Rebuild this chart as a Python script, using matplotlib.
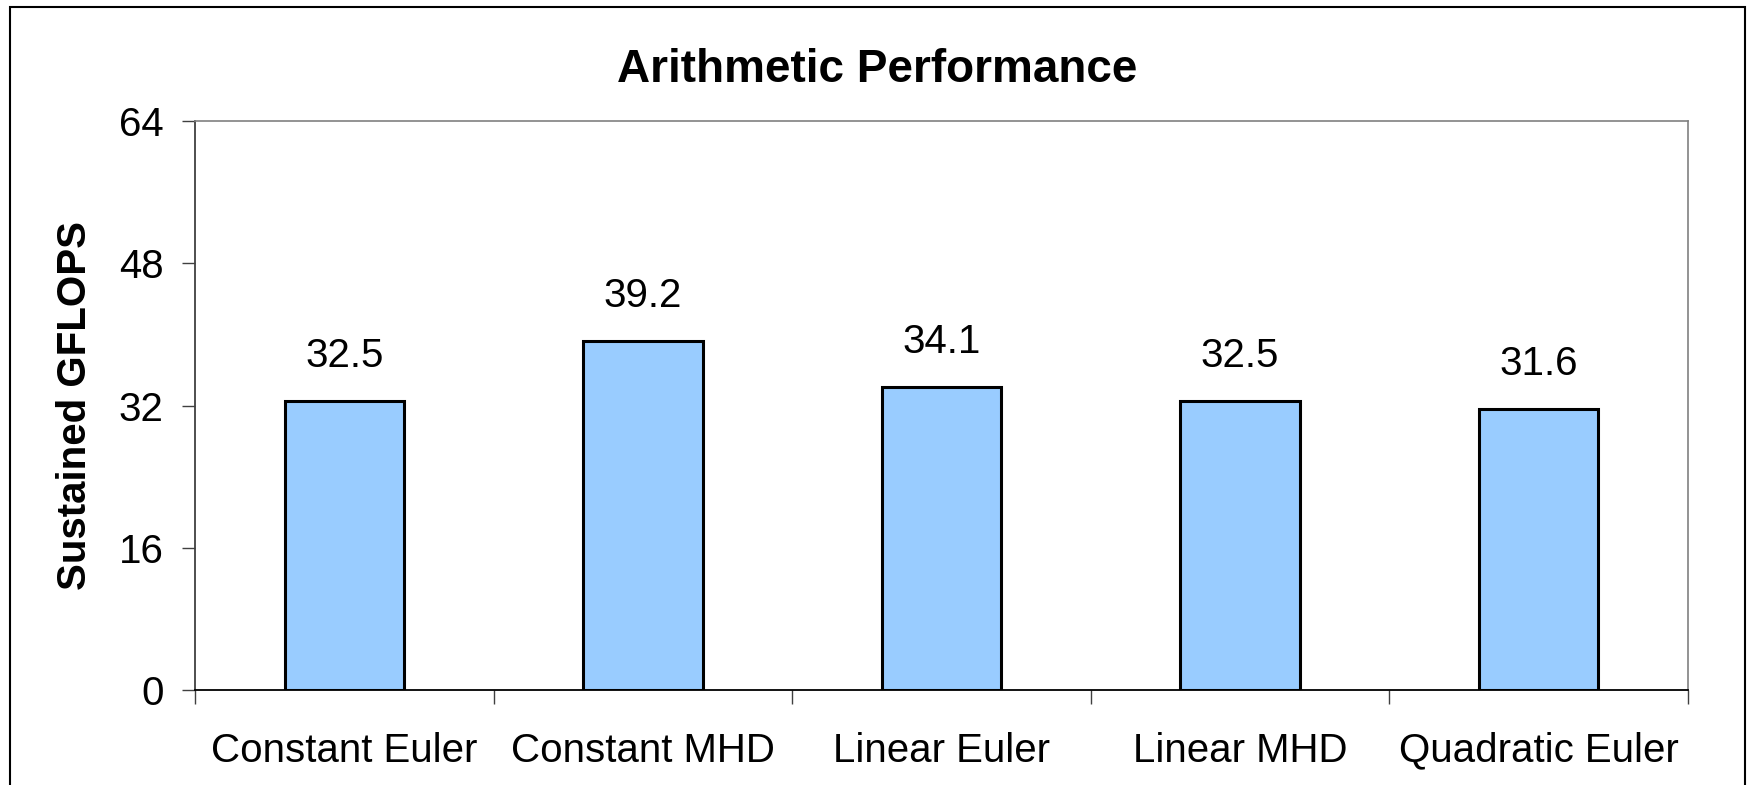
import matplotlib
matplotlib.use("Agg")
import matplotlib.pyplot as plt
from matplotlib.patches import Rectangle
import numpy as np

categories = ["Constant Euler", "Constant MHD", "Linear Euler", "Linear MHD", "Quadratic Euler"]
values = [32.5, 39.2, 34.1, 32.5, 31.6]
yticks = [0, 16, 32, 48, 64]
title = "Arithmetic Performance"
ylabel = "Sustained GFLOPS"

plt.rcParams['font.family'] = ['Liberation Sans', 'DejaVu Sans']

fig = plt.figure(figsize=(17.47, 7.85), dpi=100)
fig.patch.set_facecolor('white')
fig.patches.append(Rectangle((10/1747, -0.05), (1745-10)/1747, 1.05 - 7/785,
                             transform=fig.transFigure, fill=False,
                             edgecolor='black', linewidth=1.5, zorder=0))

ax = fig.add_axes([195/1747, 95/785, (1688-195)/1747, (690-121)/785])
x = np.arange(len(categories))
ax.bar(x, values, width=0.4, color='#99CCFF', edgecolor='black', linewidth=2.2, zorder=3)

for xi, v in zip(x, values):
    ax.annotate(f"{v:.1f}", (xi, v), xytext=(0, 32.5), textcoords='offset points',
                ha='center', va='center', fontsize=29)

ax.set_xlim(-0.5, len(categories) - 0.5)
ax.set_ylim(0, 64)
ax.set_yticks(yticks)
ax.set_yticklabels([str(t) for t in yticks], fontsize=29)
ax.tick_params(axis='y', direction='out', length=9.5, width=1, pad=13, color='#404040')

ax.set_xticks(x)
ax.set_xticklabels(categories, fontsize=29)
ax.tick_params(axis='x', which='major', length=0, pad=30)
ax.set_xticks(np.arange(-0.5, len(categories), 1.0), minor=True)
ax.tick_params(axis='x', which='minor', direction='out', length=10, width=1, color='#404040')

for side in ['top', 'right']:
    ax.spines[side].set_color('#808080')
    ax.spines[side].set_linewidth(1.2)
ax.spines['left'].set_color('#404040')
ax.spines['left'].set_linewidth(1.3)
ax.spines['bottom'].set_color('black')
ax.spines['bottom'].set_linewidth(1.3)

ax.set_ylabel(ylabel, fontsize=29, fontweight='bold')
ax.yaxis.set_label_coords(-(195 - 94) / (1688 - 195), 0.5)

fig.text(877 / 1747, 1 - 70 / 785, title, ha='center', va='center',
         fontsize=33, fontweight='bold')

fig.savefig("out.png", dpi=100, facecolor='white')
